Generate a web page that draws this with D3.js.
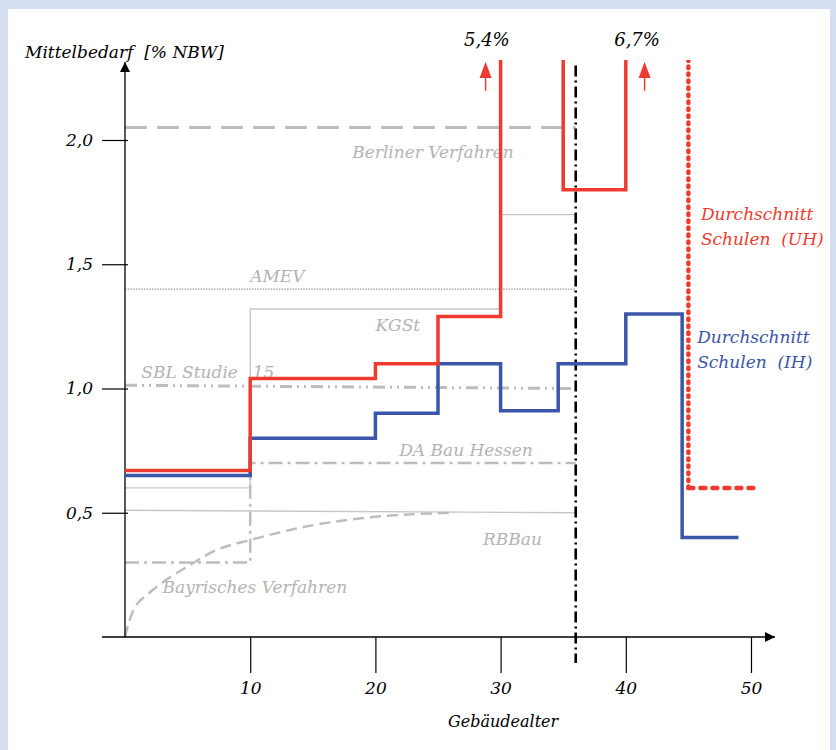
<!DOCTYPE html>
<html><head><meta charset="utf-8">
<script src="https://cdn.jsdelivr.net/npm/d3@7"></script>
<style>
body{margin:0;background:#fff}
text{font-family:"DejaVu Serif",serif;font-style:italic}
</style>
</head><body><svg id="c" width="836" height="750"></svg>
<script>
// ---- data ----
const xTickValues = [10, 20, 30, 40, 50];
const yTickValues = [0.5, 1.0, 1.5, 2.0];
const yTickLabels = ["0,5", "1,0", "1,5", "2,0"];

// Durchschnitt Schulen (IH) – step series (value holds from age on)
const ihAges   = [0, 10, 20, 25, 30, 34.6, 40, 44.5, 49];
const ihValues = [0.65, 0.80, 0.90, 1.10, 0.91, 1.10, 1.30, 0.40, 0.40];

// Durchschnitt Schulen (UH) – step series (5,4 % and 6,7 % are off scale)
const uhAges   = [0, 10, 20, 25, 30, 35, 40];
const uhValues = [0.67, 1.04, 1.10, 1.29, 5.4, 1.80, 6.7];
const uhDropAges   = [45, 45];
const uhDropValues = [6.7, 0.60];
const uhTailAges   = [45, 50.2];
const uhTailValues = [0.60, 0.60];
const offScaleAges   = [28.8, 41.5];
const offScaleLabels = ["5,4%", "6,7%"];
const offScaleLabelAges = [28.9, 40.9];

const markerAge = 36;

// reference procedures
const berlinerAges = [0, 36],  berlinerValues = [2.05, 2.05];
const amevAges     = [0, 36],  amevValues     = [1.40, 1.40];
const kgstAges     = [0, 10, 10, 30, 30, 36], kgstValues = [0.60, 0.60, 1.32, 1.32, 1.70, 1.70];
const sblAges      = [0, 35.7], sblValues     = [1.013, 1.0];
const daBauAges    = [0, 10, 10, 36], daBauValues = [0.30, 0.30, 0.70, 0.70];
const rbbauAges    = [0, 36],  rbbauValues    = [0.51, 0.50];
const bayernAges   = [0, 0.15, 0.6, 2, 3.3, 5.2, 7.3, 10, 14, 19.3, 26];
const bayernValues = [0, 0.03, 0.10, 0.18, 0.23, 0.29, 0.35, 0.39, 0.44, 0.48, 0.50];

// ---- drawing ----
const W = 836, H = 750;
const svg = d3.select("#c");
const x = d3.scaleLinear().domain([0, 50]).range([125, 751]);
const y = d3.scaleLinear().domain([0, 2]).range([637, 140]);
const RED = "#EF3B2F", BLUE = "#3B55A8", GREY = "#BDBDBD", GREYT = "#B3B3B3";

svg.append("rect").attr("width", W).attr("height", H).attr("fill", "#D5DFF1");
svg.append("rect").attr("x", 8).attr("y", 9).attr("width", 822).attr("height", H - 9).attr("fill", "#fff");

const defs = svg.append("defs");
defs.append("clipPath").attr("id", "top").append("rect")
  .attr("x", 0).attr("y", 60).attr("width", W).attr("height", H);
defs.append("marker").attr("id", "ah").attr("viewBox", "0 0 10 10")
  .attr("refX", 10).attr("refY", 5).attr("markerWidth", 11).attr("markerHeight", 10)
  .attr("markerUnits", "userSpaceOnUse").attr("orient", "auto")
  .append("path").attr("d", "M0,0L10,5L0,10Z").attr("fill", "#000");

const zip = (a, v) => a.map((d, i) => [d, v[i]]);
const line = d3.line().x(d => x(d[0])).y(d => y(d[1]));
const step = d3.line().x(d => x(d[0])).y(d => y(d[1])).curve(d3.curveStepAfter);

function ref(ages, vals, w, dash, col) {
  svg.append("path").attr("d", line(zip(ages, vals))).attr("fill", "none")
    .attr("stroke", col || GREY).attr("stroke-width", w)
    .attr("stroke-dasharray", dash || null);
}
ref(kgstAges, kgstValues, 1.3, null, "#C6C6C6");
ref(rbbauAges, rbbauValues, 1.3, null, "#C6C6C6");
ref(amevAges, amevValues, 1.6, "1.5,1.2", "#BBBBBB");
ref(berlinerAges, berlinerValues, 3, "22,10");
ref(sblAges, sblValues, 3, "12,5,2,5,2,5");
ref(daBauAges, daBauValues, 2.5, "14,5,3,5");
svg.append("path").attr("d", line.curve(d3.curveMonotoneX)(zip(bayernAges, bayernValues)))
  .attr("fill", "none").attr("stroke", GREY).attr("stroke-width", 2.5).attr("stroke-dasharray", "11,6");
line.curve(d3.curveLinear);

// reference labels
function lab(txt, a, v, col, size) {
  return svg.append("text").attr("x", x(a)).attr("y", y(v)).attr("fill", col || GREYT)
    .attr("font-size", size || 17).style("white-space", "pre").text(txt);
}
lab("Berliner Verfahren", 18.15, 1.928);
lab("AMEV", 10.0, 1.43);
lab("KGSt", 20.0, 1.232);
lab("SBL Studie", 1.3, 1.042);
lab("15", 10.2, 1.042);
lab("DA Bau Hessen", 21.9, 0.729);
lab("RBBau", 28.6, 0.37);
lab("Bayrisches Verfahren", 3.0, 0.177);

// axes
const ax = svg.append("g").attr("transform", `translate(0,${y(0)})`)
  .call(d3.axisBottom(x).tickValues(xTickValues).tickSizeInner(36).tickSizeOuter(0).tickPadding(9)
    .tickFormat(d3.format("d")));
ax.select(".domain").remove();
ax.selectAll("line").attr("stroke", "#000").attr("stroke-width", 1.2);
ax.selectAll("text").attr("font-size", 17).attr("fill", "#000")
  .style("font-family", "'DejaVu Serif',serif").style("font-style", "italic");

const ay = svg.append("g").attr("transform", `translate(${x(0)},0)`)
  .call(d3.axisLeft(y).tickValues(yTickValues).tickSizeInner(23).tickSizeOuter(0).tickPadding(9)
    .tickFormat((d, i) => yTickLabels[i]));
ay.select(".domain").remove();
ay.selectAll("line").attr("x2", -23).attr("x1", 3).attr("stroke", "#000").attr("stroke-width", 1.2);
ay.selectAll("text").attr("font-size", 17).attr("fill", "#000")
  .style("font-family", "'DejaVu Serif',serif").style("font-style", "italic");

svg.append("line").attr("x1", 102).attr("x2", 775).attr("y1", y(0)).attr("y2", y(0))
  .attr("stroke", "#000").attr("stroke-width", 1.3).attr("marker-end", "url(#ah)");
svg.append("line").attr("x1", x(0)).attr("x2", x(0)).attr("y1", y(0)).attr("y2", 62)
  .attr("stroke", "#000").attr("stroke-width", 1.3).attr("marker-end", "url(#ah)");

svg.append("text").attr("x", 25).attr("y", 58).attr("font-size", 17).attr("fill", "#000")
  .style("white-space", "pre").text("Mittelbedarf  [% NBW]");
svg.append("text").attr("x", x(30.2)).attr("y", 727).attr("font-size", 16).attr("fill", "#000")
  .attr("text-anchor", "middle").text("Gebäudealter");

// marker line
svg.append("line").attr("x1", x(markerAge)).attr("x2", x(markerAge))
  .attr("y1", y(2.30)).attr("y2", y(-0.105))
  .attr("stroke", "#000").attr("stroke-width", 2.6).attr("stroke-dasharray", "11,4,2,4");

// data series
const g = svg.append("g").attr("clip-path", "url(#top)");
g.append("path").attr("d", step(zip(ihAges, ihValues))).attr("fill", "none")
  .attr("stroke", BLUE).attr("stroke-width", 3.5);
g.append("path").attr("d", step(zip(uhAges, uhValues))).attr("fill", "none")
  .attr("stroke", RED).attr("stroke-width", 3.5);
g.append("path").attr("d", line(zip(uhDropAges, uhDropValues).reverse())).attr("fill", "none")
  .attr("stroke", RED).attr("stroke-width", 4.5).attr("stroke-linecap", "round")
  .attr("stroke-dasharray", "1.5,5.5");
g.append("path").attr("d", line(zip(uhTailAges, uhTailValues))).attr("fill", "none")
  .attr("stroke", RED).attr("stroke-width", 4.5).attr("stroke-linecap", "round")
  .attr("stroke-dasharray", "5,7");

// off-scale arrows and labels
offScaleAges.forEach((a, i) => {
  const cx = x(a);
  svg.append("line").attr("x1", cx).attr("x2", cx).attr("y1", y(2.198)).attr("y2", y(2.27))
    .attr("stroke", RED).attr("stroke-width", 1.5);
  svg.append("path").attr("d", `M${cx},${y(2.315)}L${cx + 6},${y(2.25)}L${cx - 6},${y(2.25)}Z`)
    .attr("fill", RED);
  svg.append("text").attr("x", x(offScaleLabelAges[i])).attr("y", y(2.38)).attr("font-size", 18)
    .attr("fill", "#000").attr("text-anchor", "middle").text(offScaleLabels[i]);
});

lab("Durchschnitt", 46.0, 1.679, RED);
lab("Schulen  (UH)", 46.0, 1.578, RED);
lab("Durchschnitt", 45.7, 1.183, BLUE);
lab("Schulen  (IH)", 45.7, 1.083, BLUE);
</script>
</body></html>
